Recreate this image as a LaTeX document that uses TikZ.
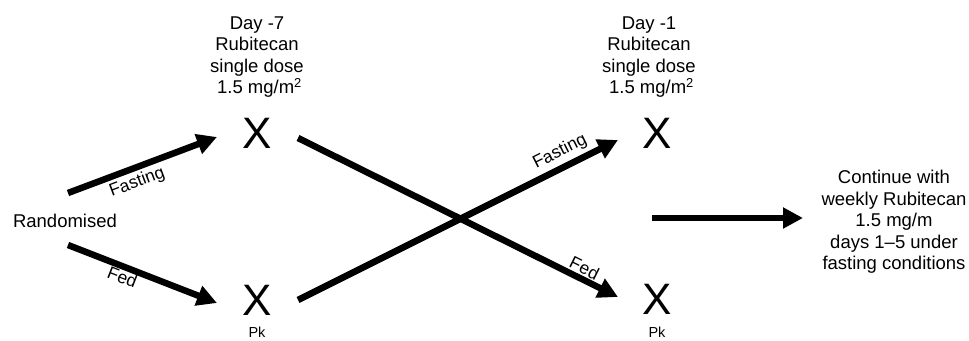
\documentclass[tikz,border=0pt]{standalone}
\usepackage{fontspec}
\setmainfont{Liberation Sans}
\usetikzlibrary{arrows.meta}

\begin{document}
\begin{tikzpicture}[x=1pt,y=-1pt,
  every node/.style={inner sep=0pt, outer sep=0pt},
  txt/.style={font=\fontsize{18.5}{21.5}\selectfont, align=center},
  lbl/.style={font=\fontsize{17.5}{20}\selectfont, sloped},
  cross/.style={font=\fontsize{44}{44}\selectfont},
  pk/.style={font=\fontsize{14.5}{16}\selectfont},
  flow/.style={line width=6.5pt, -{Triangle[length=20pt,width=20pt]}},
  bar/.style={line width=6.5pt}
]
\useasboundingbox (0,0) rectangle (969,340);

% text blocks
\node[txt] (rand) at (65,220.5) {Randomised};
\node[txt] (dose7) at (257,57) {Day -7\\Rubitecan\\single dose\\\hspace*{5pt}1.5 mg/m\textsuperscript{2}};
\node[txt] (dose1) at (649,57) {Day -1\\Rubitecan\\single dose\\\hspace*{5pt}1.5 mg/m\textsuperscript{2}};
\node[txt] (cont) at (894,222) {Continue with\\weekly Rubitecan\\1.5 mg/m\\days 1--5 under\\fasting conditions};

% dosing marks
\node[cross] (xa) at (257,133.5) {X};
\node[cross] (xb) at (257,300) {X};
\node[cross] (xc) at (657,133) {X};
\node[cross] (xd) at (657,299.5) {X};
\node[pk] (pka) at (257,332) {Pk};
\node[pk] (pkb) at (657,332) {Pk};

% arrow end points
\coordinate (s1) at (68,193);  \coordinate (t1) at (217,137);
\coordinate (s2) at (68,245);  \coordinate (t2) at (217,303);
\coordinate (s3) at (298,138); \coordinate (t3) at (618,297);
\coordinate (s4) at (298,300); \coordinate (t4) at (618,140);
\coordinate (s5) at (652,218); \coordinate (t5) at (803,218);

% period 1
\draw[flow] (s1) -- node[lbl, pos=0.43, below=6.5pt] {Fasting} (t1);
\draw[flow] (s2) -- node[lbl, pos=0.39, below=3.5pt] {Fed} (t2);

% crossover to period 2
\draw[flow] (s3) -- node[lbl, pos=0.88, above=4.6pt] {Fed} (t3);
\draw[flow] (s4) -- node[lbl, pos=0.84, above=7pt] {Fasting} (t4);

% continuation
\draw[flow] (s5) -- (t5);
\end{tikzpicture}
\end{document}
